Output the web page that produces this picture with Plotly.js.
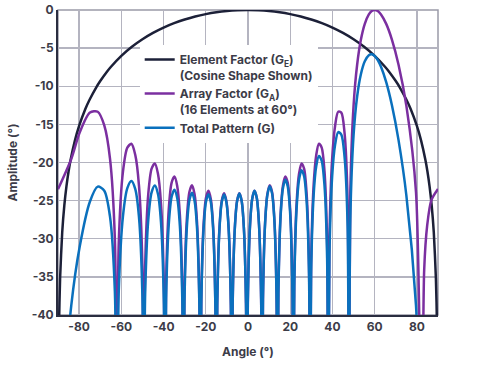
<!DOCTYPE html>
<html>
<head>
<meta charset="utf-8">
<script src="https://cdn.plot.ly/plotly-3.0.1.min.js"></script>
<style>html,body{margin:0;padding:0;background:#fff;}#chart{width:490px;height:365px;}</style>
</head>
<body>
<div id="chart"></div>
<script>
// Angles (deg) sampled across each lobe of the array pattern; -60 marks a null below the -40 floor
const lobeAngles = [
 -90, -83.72, -79.73, -74.86, -71.18, -68.08, -65.37, -63.06, -62.13,
 -61.22, -59.20, -57.16, -55.24, -53.39, -51.63, -50.04, -49.38,
 -48.72, -47.22, -45.66, -44.14, -42.67, -41.22, -39.90, -39.35,
 -38.79, -37.51, -36.17, -34.85, -33.56, -32.27, -31.10, -30.60,
 -30.10, -28.95, -27.73, -26.52, -25.33, -24.14, -23.05, -22.58,
 -22.12, -21.04, -19.89, -18.75, -17.62, -16.50, -15.46, -15.01,
 -14.56, -13.53, -12.43, -11.33, -10.24, -9.15, -8.13, -7.70,
 -7.27, -6.26, -5.18, -4.10, -3.02, -1.95, -0.95, -0.52,
 -0.09, 0.92, 1.99, 3.07, 4.14, 5.22, 6.23, 6.66,
 7.09, 8.11, 9.19, 10.28, 11.37, 12.47, 13.50, 13.94,
 14.39, 15.43, 16.54, 17.67, 18.80, 19.94, 21.01, 21.47,
 21.93, 23.02, 24.19, 25.37, 26.57, 27.77, 28.91, 29.41,
 29.90, 31.07, 32.33, 33.61, 34.91, 36.23, 37.48, 38.02,
 38.57, 39.87, 41.28, 42.72, 44.20, 45.72, 47.18, 47.82,
 48.46, 50.00, 51.70, 53.47, 55.32, 57.24, 58.60, 60.00, 61.46, 63.00,
 65.47, 68.20, 71.31, 75.02, 79.58, 82.31,
 83.46, 84.88, 86.86, 90
];
const arrayFactor = [
 -23.50, -19.54, -16.07, -13.45, -13.34, -15.14, -19.49, -30.03, -60,
 -30.52, -21.14, -18.05, -17.55, -19.01, -23.06, -33.36, -60,
 -33.67, -24.09, -20.81, -20.13, -21.43, -25.34, -35.51, -60,
 -35.71, -26.04, -22.64, -21.85, -23.04, -26.85, -36.95, -60,
 -37.09, -27.31, -23.84, -22.99, -24.12, -27.84, -37.89, -60,
 -37.98, -28.14, -24.61, -23.70, -24.77, -28.45, -38.43, -60,
 -38.47, -28.59, -25.01, -24.04, -25.06, -28.69, -38.62, -60,
 -38.62, -28.69, -25.06, -24.04, -25.01, -28.59, -38.47, -60,
 -38.43, -28.45, -24.77, -23.70, -24.61, -28.14, -37.98, -60,
 -37.89, -27.84, -24.12, -22.99, -23.84, -27.31, -37.09, -60,
 -36.95, -26.85, -23.04, -21.85, -22.64, -26.04, -35.71, -60,
 -35.51, -25.34, -21.43, -20.13, -20.81, -24.09, -33.67, -60,
 -33.36, -23.06, -19.01, -17.55, -18.05, -21.14, -30.52, -60,
 -30.03, -19.49, -15.14, -13.34, -13.45, -16.07, -24.93, -60,
 -23.90, -12.58, -7.18, -3.91, -1.82, -0.58, -0.14, 0.00, -0.14, -0.58,
 -1.82, -3.91, -7.18, -12.58, -23.90, -60,
 -34.10, -28.26, -24.93, -23.47
];
const totalPattern = [
 -60, -38.76, -31.05, -25.11, -23.16, -23.70, -27.09, -36.91, -60,
 -36.87, -26.96, -23.37, -22.43, -23.50, -27.20, -37.21, -60,
 -37.28, -27.45, -23.92, -23.01, -24.10, -27.81, -37.81, -60,
 -37.88, -28.05, -24.50, -23.57, -24.62, -28.31, -38.30, -60,
 -38.35, -28.47, -24.90, -23.96, -25.00, -28.64, -38.61, -60,
 -38.64, -28.74, -25.14, -24.17, -25.19, -28.82, -38.75, -60,
 -38.75, -28.84, -25.22, -24.21, -25.20, -28.80, -38.71, -60,
 -38.69, -28.74, -25.10, -24.06, -25.02, -28.60, -38.47, -60,
 -38.43, -28.45, -24.78, -23.71, -24.63, -28.18, -38.03, -60,
 -37.96, -27.93, -24.23, -23.13, -24.01, -27.52, -37.33, -60,
 -37.23, -27.17, -23.41, -22.27, -23.12, -26.58, -36.31, -60,
 -36.16, -26.06, -22.23, -21.01, -21.78, -25.15, -34.83, -60,
 -34.60, -24.41, -20.47, -19.14, -19.77, -23.01, -32.53, -60,
 -32.17, -21.79, -17.62, -16.02, -16.34, -19.19, -28.28, -60,
 -27.47, -16.42, -11.34, -8.42, -6.72, -5.92, -5.80, -6.02, -6.56, -7.44,
 -9.46, -12.52, -17.06, -24.33, -38.75, -60,
 -52.97, -49.24, -50.16, -60
];
// Element factor (cosine shape)
const elementAngles = [-90, -89.5, -89, -88, -87, -86, -85, -84, -82, -80, -77, -75, -72, -70, -67, -65, -60, -55, -50, -45, -40, -35, -30, -25, -20, -15, -10, -5, 0,
 5, 10, 15, 20, 25, 30, 35, 40, 45, 50, 55, 60, 65, 67, 70, 72, 75, 77, 80, 82, 84, 85, 86, 87, 88, 89, 89.5, 90];
const elementFactor = [-60, -41.18, -35.16, -29.14, -25.62, -23.13, -21.19, -19.62, -17.13, -15.21, -12.96, -11.74, -10.20, -9.32, -8.16, -7.48, -6.02, -4.83, -3.84, -3.01, -2.31, -1.73, -1.25, -0.85, -0.54, -0.30, -0.13, -0.03, 0,
 -0.03, -0.13, -0.30, -0.54, -0.85, -1.25, -1.73, -2.31, -3.01, -3.84, -4.83, -6.02, -7.48, -8.16, -9.32, -10.20, -11.74, -12.96, -15.21, -17.13, -19.62, -21.19, -23.13, -25.62, -29.14, -35.16, -41.18, -60];

const seriesNames = [
 'Element Factor (G<sub>E</sub>)<br>(Cosine Shape Shown)',
 'Array Factor (G<sub>A</sub>)<br>(16 Elements at 60°)',
 'Total Pattern (G)'
];
const xTicks = [-80, -60, -40, -20, 0, 20, 40, 60, 80];
const yTicks = [0, -5, -10, -15, -20, -25, -30, -35, -40];

const FONT = 'Inter, "Open Sans", "DejaVu Sans", sans-serif';
const TXT = '#3c3c48';

const traces = [
 {x: elementAngles, y: elementFactor, name: seriesNames[0], type: 'scatter', mode: 'lines',
  line: {color: '#1c2038', width: 2.5, shape: 'spline', smoothing: 0.6}},
 {x: lobeAngles, y: arrayFactor, name: seriesNames[1], type: 'scatter', mode: 'lines',
  line: {color: '#7b2fa0', width: 2.5, shape: 'spline', smoothing: 0.8}},
 {x: lobeAngles, y: totalPattern, name: seriesNames[2], type: 'scatter', mode: 'lines',
  line: {color: '#0a70bd', width: 2.5, shape: 'spline', smoothing: 0.8}}
];

const layout = {
 width: 490, height: 365,
 margin: {l: 58, r: 52, t: 10, b: 50},
 paper_bgcolor: '#ffffff', plot_bgcolor: '#ffffff',
 font: {family: FONT, color: TXT, size: 11, weight: 700},
 showlegend: true,
 legend: {x: 0.215, y: 0.885, xanchor: 'left', yanchor: 'top', bgcolor: '#ffffff',
  borderwidth: 0, font: {family: FONT, size: 12, color: TXT, weight: 700},
  valign: 'top', tracegroupgap: 0, itemwidth: 30},
 xaxis: {range: [-90, 90], tickvals: xTicks, ticktext: xTicks.map(String),
  showgrid: true, gridcolor: '#b4b4c0', gridwidth: 1.3, zeroline: false,
  showline: true, linecolor: '#2a2d40', linewidth: 2, mirror: false, ticks: '',
  tickfont: {family: FONT, size: 12, color: TXT, weight: 700},
  title: {text: 'Angle (°)', font: {family: FONT, size: 12, color: TXT, weight: 700}, standoff: 14}},
 yaxis: {range: [-40, 0], tickvals: yTicks, ticktext: yTicks.map(String),
  showgrid: true, gridcolor: '#b4b4c0', gridwidth: 1.3, zeroline: false,
  showline: true, linecolor: '#2a2d40', linewidth: 2, mirror: false, ticks: '',
  tickfont: {family: FONT, size: 12, color: TXT, weight: 700},
  title: {text: 'Amplitude (°)', font: {family: FONT, size: 12, color: TXT, weight: 700}, standoff: 12}},
 shapes: [
  {type: 'rect', xref: 'paper', yref: 'paper', x0: 0, x1: 1, y0: 0, y1: 1,
   line: {color: '#9a9aa8', width: 1.5}, layer: 'below'}
 ]
};

Plotly.newPlot('chart', traces, layout, {displayModeBar: false, staticPlot: true});
</script>
</body>
</html>
